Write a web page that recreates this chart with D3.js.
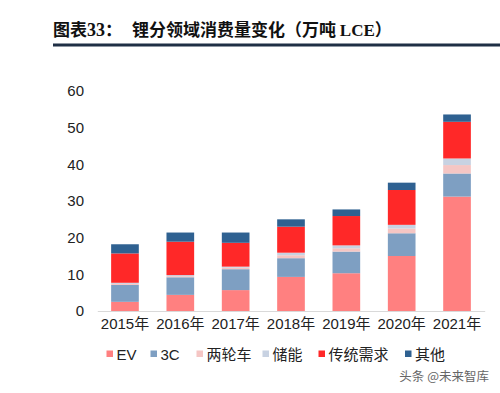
<!DOCTYPE html>
<html><head><meta charset="utf-8">
<script src="https://cdn.jsdelivr.net/npm/d3@7/dist/d3.min.js"></script>
<style>
html,body{margin:0;padding:0;background:#fff;}
svg{display:block;}
</style></head>
<body>
<svg id="chart" width="500" height="393"></svg>
<script>
const years = ["2015年","2016年","2017年","2018年","2019年","2020年","2021年"];
const seriesNames = ["EV","3C","两轮车","储能","传统需求","其他"];
const ev          = [2.5, 4.4, 5.7, 9.3, 10.3, 15.0, 31.2];
const c3          = [4.6, 4.8, 5.7, 5.1, 5.9, 6.2, 6.3];
const twoWheel    = [0.3, 0.3, 0.4, 0.8, 0.9, 1.3, 2.3];
const storage     = [0.3, 0.3, 0.3, 0.7, 0.8, 1.0, 1.8];
const traditional = [8.0, 9.1, 6.5, 7.1, 8.0, 9.5, 10.0];
const other       = [2.5, 2.5, 2.8, 2.0, 1.8, 2.0, 2.0];
const yTicks = [0,10,20,30,40,50,60];
const colors = ["#FF8080","#7E9FC2","#F5C6C4","#C8D2E2","#FF2828","#2F6191"];

const seriesVals = [ev, c3, twoWheel, storage, traditional, other];
const table = years.map((y,i)=>{
  const o = {year:y};
  seriesNames.forEach((s,k)=>{o[s]=seriesVals[k][i];});
  return o;
});

const svg = d3.select("#chart");
const sans = "'Liberation Sans', Arial, 'Noto Sans CJK SC', sans-serif";
const cjk = "'Noto Sans CJK SC', sans-serif";
const serif = "'Liberation Serif', 'Times New Roman', serif";

// Title
const t1 = svg.append("text").attr("x",53).attr("y",36)
  .attr("font-family",cjk).attr("font-weight","bold")
  .attr("font-size",17).attr("fill","#111");
t1.append("tspan").text("图表");
t1.append("tspan").attr("font-family",serif).attr("font-size",18).text("33");
t1.append("tspan").text("：");
const t2 = svg.append("text").attr("x",132).attr("y",36)
  .attr("font-family",cjk).attr("font-weight","bold")
  .attr("font-size",17).attr("fill","#111");
t2.append("tspan").text("锂分领域消费量变化（万吨 ");
t2.append("tspan").attr("font-family",serif).attr("font-size",17).text("LCE");
t2.append("tspan").text("）");
svg.append("rect").attr("x",53).attr("y",43.5).attr("width",447).attr("height",3).attr("fill","#1f2f45");

const x = d3.scaleBand().domain(years).range([97.3,484.7]).paddingInner(0.5).paddingOuter(0.25);
const y = d3.scaleLinear().domain([0,60]).range([311,91]);

const stack = d3.stack().keys(seriesNames)(table);

svg.append("g").selectAll("g").data(stack).join("g")
  .attr("fill",(d,i)=>colors[i])
  .selectAll("rect").data(d=>d).join("rect")
  .attr("x",d=>x(d.data.year))
  .attr("width",x.bandwidth())
  .attr("y",d=>y(d[1]))
  .attr("height",d=>y(d[0])-y(d[1]));

// y axis
const yAxis = d3.axisLeft(y).tickValues(yTicks).tickSize(0).tickPadding(0);
const gy = svg.append("g").attr("transform","translate(84,0)").call(yAxis);
gy.select(".domain").remove();
gy.selectAll("text").attr("font-family",sans).attr("font-size",15).attr("fill","#222");

// x axis
const xAxis = d3.axisBottom(x).tickSize(0).tickPadding(7);
const gx = svg.append("g").attr("transform","translate(0,311)").call(xAxis);
gx.select(".domain").attr("stroke","#d9d9d9").attr("stroke-width",1.2);
gx.selectAll("text").attr("font-family",sans).attr("font-size",15).attr("fill","#222");

// legend
const legendX = [106.5, 150.5, 196.5, 262.5, 318.5, 405];
const lg = svg.append("g");
seriesNames.forEach((s,i)=>{
  lg.append("rect").attr("x",legendX[i]).attr("y",350.5).attr("width",6.5).attr("height",6.5).attr("fill",colors[i]);
  lg.append("text").attr("x",legendX[i]+10).attr("y",359.5)
    .attr("font-family",sans).attr("font-size",15).attr("fill","#222").text(s);
});

// watermark
svg.append("text").attr("x",489).attr("y",381).attr("text-anchor","end")
  .attr("font-family",cjk).attr("font-size",12.5)
  .attr("fill","#666").text("头条 @未来智库");
</script>
</body></html>
